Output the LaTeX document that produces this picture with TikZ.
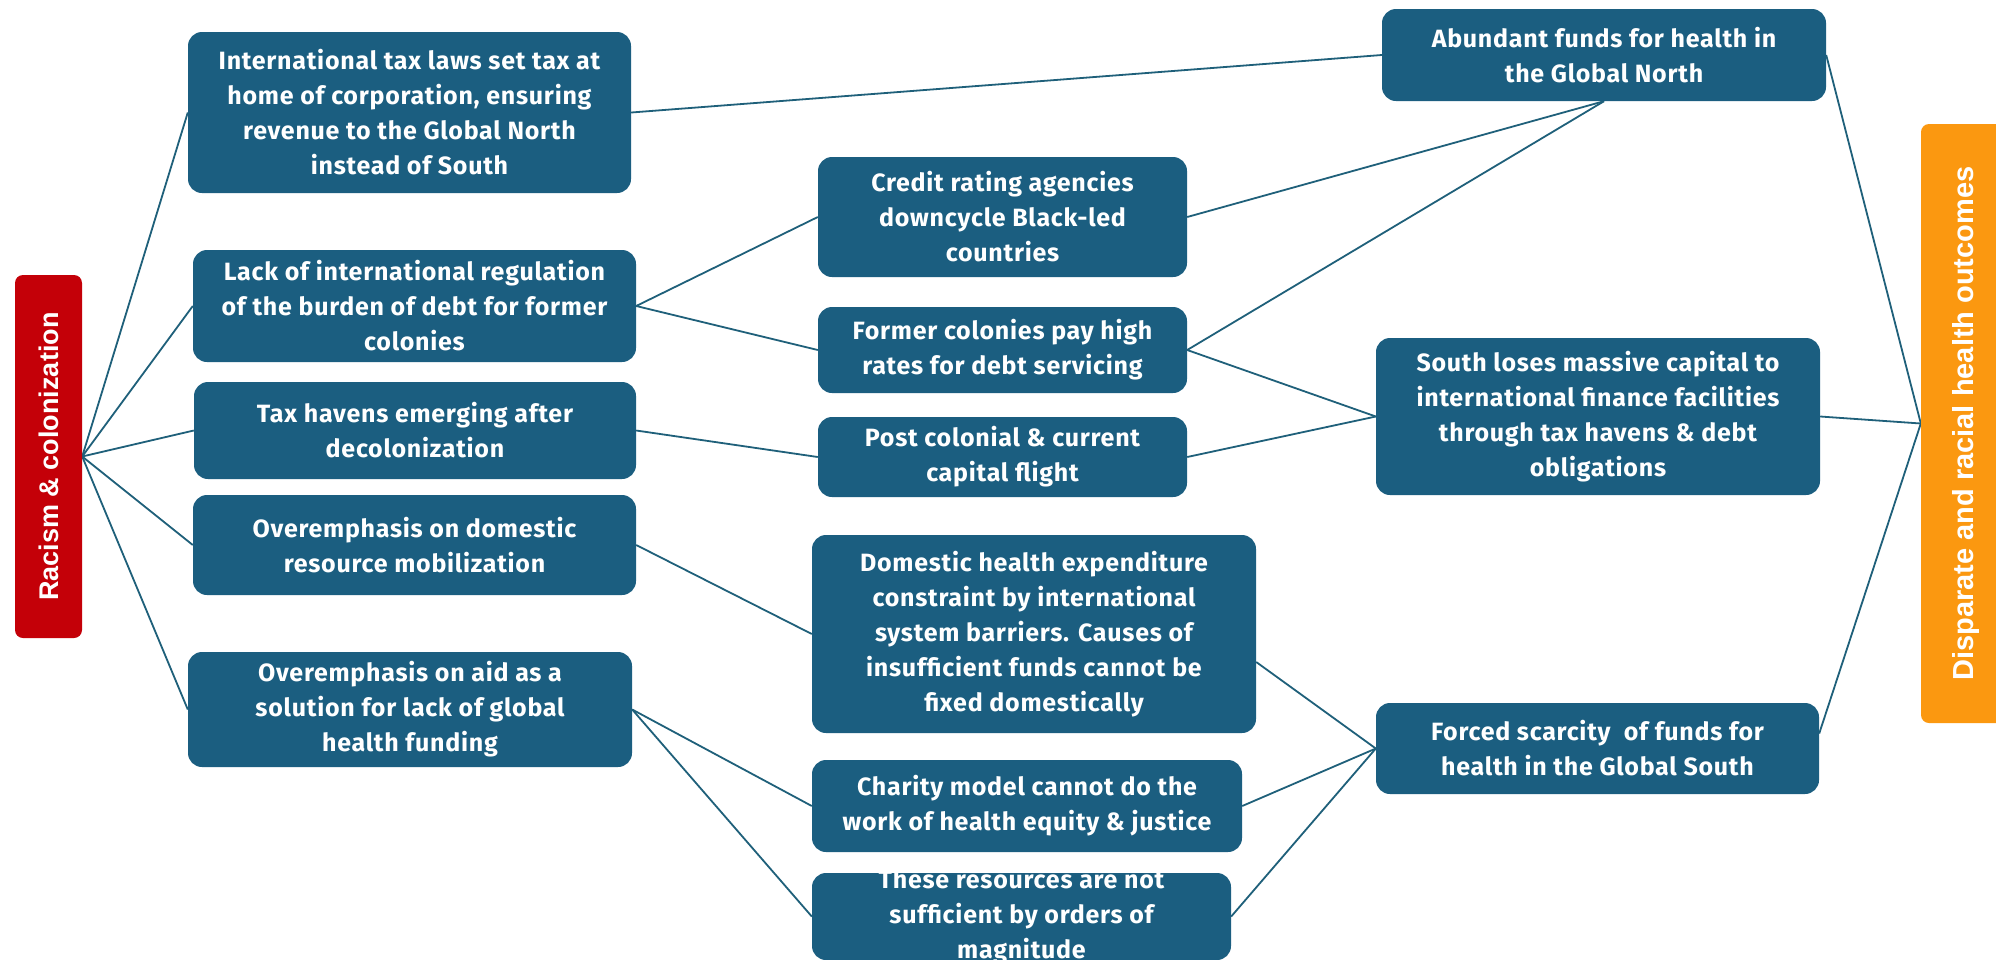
\documentclass[tikz,border=0pt]{standalone}
\usepackage{fontspec}
\setmainfont{Fira Sans}
\newfontfamily\boxfont{Fira Sans}[LetterSpace=3]
\newfontfamily\labelfont{Liberation Sans}
\usetikzlibrary{backgrounds}
\definecolor{boxblue}{RGB}{27,94,128}
\definecolor{linecol}{RGB}{31,96,122}
\definecolor{racred}{RGB}{196,0,8}
\definecolor{outorange}{RGB}{251,152,16}
\begin{document}
\begin{tikzpicture}[x=1pt,y=-1pt,
  box/.style={fill=boxblue, rounded corners=14pt, text=white, align=center, inner sep=0pt,
    font=\boxfont\bfseries\fontsize{25}{35}\selectfont},
  boxtext/.style={text=white, align=center, inner sep=0pt, font=\boxfont\bfseries\fontsize{25}{35}\selectfont},
  link/.style={draw=linecol, line width=1.8pt},
  sidebox/.style={rounded corners=8pt, inner sep=0pt},
  sidetext/.style={text=white, rotate=90, inner sep=0pt, font=\labelfont\bfseries\fontsize{#1}{#1}\selectfont}]
\useasboundingbox (0,0) rectangle (1996,959);

% left column
\node[sidebox, fill=racred, minimum width=67pt, minimum height=363pt] (R) at (48.5,456.5) {};
\node[sidetext=27] (Rt) at (R.center) {Racism \& colonization};

\node[box, minimum width=443pt, minimum height=161pt] (A) at (409.5,112.5)
  {International tax laws set tax at\\home of corporation, ensuring\\revenue to the Global North\\instead of South};
\node[box, minimum width=443pt, minimum height=112pt] (B) at (414.5,306)
  {Lack of international regulation\\of the burden of debt for former\\colonies};
\node[box, minimum width=442pt, minimum height=97pt] (C) at (415,430.5)
  {Tax havens emerging after\\decolonization};
\node[box, minimum width=443pt, minimum height=100pt] (D) at (414.5,545)
  {Overemphasis on domestic\\resource mobilization};
\node[box, minimum width=444pt, minimum height=115pt] (E) at (410,709.5)
  {Overemphasis on aid as a\\solution for lack of global\\health funding};

% middle column
\node[box, minimum width=369pt, minimum height=120pt] (F) at (1002.5,217)
  {Credit rating agencies\\downcycle Black-led\\countries};
\node[box, minimum width=369pt, minimum height=86pt] (G) at (1002.5,350)
  {Former colonies pay high\\rates for debt servicing};
\node[box, minimum width=369pt, minimum height=80pt] (H) at (1002.5,457)
  {Post colonial \& current\\capital flight};
\node[box, minimum width=444pt, minimum height=198pt] (I) at (1034,634)
  {Domestic health expenditure\\constraint by international\\system barriers. Causes of\\insufficient funds cannot be\\fixed domestically};
\node[box, minimum width=430pt, minimum height=92pt] (J) at (1027,806)
  {Charity model cannot do the\\work of health equity \& justice};
\node[box, minimum width=419pt, minimum height=87pt] (K) at (1021.5,916.5) {};
\node[boxtext] (Kt) at (K.center)
  {These resources are not\\sufficient by orders of\\magnitude};

% right column
\node[box, minimum width=444pt, minimum height=92pt] (L) at (1604,55)
  {Abundant funds for health in\\the Global North};
\node[box, minimum width=444pt, minimum height=157pt] (M) at (1598,416.5)
  {South loses massive capital to\\international finance facilities\\through tax havens \& debt\\obligations};
\node[box, minimum width=443pt, minimum height=91pt] (N) at (1597.5,748.5)
  {Forced scarcity\ \ of funds for\\health in the Global South};

\node[sidebox, fill=outorange, minimum width=89pt, minimum height=599pt] (O) at (1965.5,423.5) {};
\node[sidetext=29] (Ot) at (O.center) {Disparate and racial health outcomes};

\begin{scope}[on background layer]
  \fill[white] (0,0) rectangle (1996,959);
  \draw[link] (R.east) -- (A.west);
  \draw[link] (R.east) -- (B.west);
  \draw[link] (R.east) -- (C.west);
  \draw[link] (R.east) -- (D.west);
  \draw[link] (R.east) -- (E.west);
  \draw[link] (A.east) -- (L.west);
  \draw[link] (B.east) -- (F.west);
  \draw[link] (B.east) -- (G.west);
  \draw[link] (C.east) -- (H.west);
  \draw[link] (D.east) -- (I.west);
  \draw[link] (E.east) -- (J.west);
  \draw[link] (E.east) -- (K.west);
  \draw[link] (F.east) -- (L.south);
  \draw[link] (G.east) -- (L.south);
  \draw[link] (G.east) -- (M.west);
  \draw[link] (H.east) -- (M.west);
  \draw[link] ([yshift=-28pt]I.east) -- (N.west);
  \draw[link] (J.east) -- (N.west);
  \draw[link] (K.east) -- (N.west);
  \draw[link] (L.east) -- (O.west);
  \draw[link] (M.east) -- (O.west);
  \draw[link] ([yshift=15pt]N.east) -- (O.west);
\end{scope}
\end{tikzpicture}
\end{document}
